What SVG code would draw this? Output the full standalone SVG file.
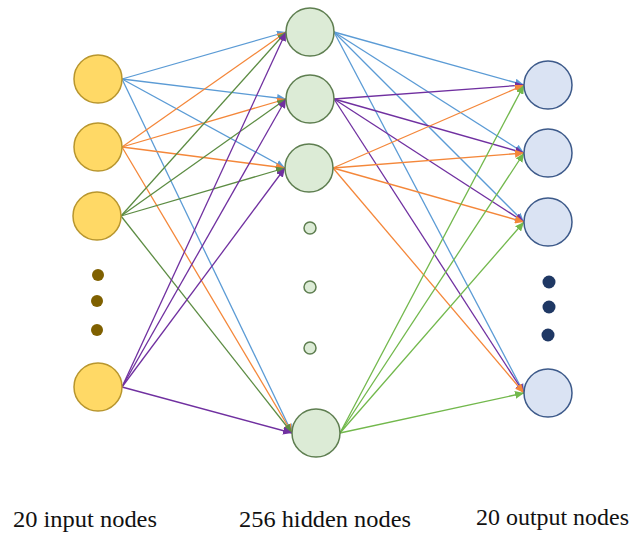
<svg xmlns="http://www.w3.org/2000/svg" width="634" height="536" viewBox="0 0 634 536">
  <style>
    .edge { fill: none; stroke-width: 1.3; }
    .blue { stroke: #5b9bd5; }
    .orange { stroke: #f4873a; }
    .dgreen { stroke: #5c8c43; }
    .purple { stroke: #7030a0; }
    .lgreen { stroke: #72b84c; }
    .inp { fill: #ffd966; stroke: #b8962e; stroke-width: 1.5; }
    .hid { fill: #dcebd6; stroke: #5e7e50; stroke-width: 1.5; }
    .out { fill: #dae3f3; stroke: #3d5a8a; stroke-width: 1.5; }
  </style>
  <defs>
    <marker id="ah-blue" markerUnits="userSpaceOnUse" markerWidth="10" markerHeight="8" refX="9" refY="4" orient="auto"><path d="M0,0 L9,4 L0,8 z" fill="#5b9bd5"/></marker>
    <marker id="ah-orange" markerUnits="userSpaceOnUse" markerWidth="10" markerHeight="8" refX="9" refY="4" orient="auto"><path d="M0,0 L9,4 L0,8 z" fill="#f4873a"/></marker>
    <marker id="ah-dgreen" markerUnits="userSpaceOnUse" markerWidth="10" markerHeight="8" refX="9" refY="4" orient="auto"><path d="M0,0 L9,4 L0,8 z" fill="#5c8c43"/></marker>
    <marker id="ah-purple" markerUnits="userSpaceOnUse" markerWidth="10" markerHeight="8" refX="9" refY="4" orient="auto"><path d="M0,0 L9,4 L0,8 z" fill="#7030a0"/></marker>
    <marker id="ah-lgreen" markerUnits="userSpaceOnUse" markerWidth="10" markerHeight="8" refX="9" refY="4" orient="auto"><path d="M0,0 L9,4 L0,8 z" fill="#72b84c"/></marker>
  </defs>

  <rect width="634" height="536" fill="#ffffff"/>

  <g id="connectors">
    <!-- input layer -> hidden layer -->
    <g class="edge blue" marker-end="url(#ah-blue)">
      <line x1="122" y1="79" x2="286" y2="32"/>
      <line x1="122" y1="79" x2="286" y2="99"/>
      <line x1="122" y1="79" x2="285" y2="168"/>
      <line x1="122" y1="79" x2="292" y2="433"/>
    </g>
    <g class="edge orange" marker-end="url(#ah-orange)">
      <line x1="122" y1="147" x2="286" y2="32"/>
      <line x1="122" y1="147" x2="286" y2="99"/>
      <line x1="122" y1="147" x2="285" y2="168"/>
      <line x1="122" y1="147" x2="292" y2="433"/>
    </g>
    <g class="edge dgreen" marker-end="url(#ah-dgreen)">
      <line x1="121" y1="216" x2="286" y2="32"/>
      <line x1="121" y1="216" x2="286" y2="99"/>
      <line x1="121" y1="216" x2="285" y2="168"/>
      <line x1="121" y1="216" x2="292" y2="433"/>
    </g>
    <g class="edge purple" marker-end="url(#ah-purple)">
      <line x1="122" y1="387" x2="286" y2="32"/>
      <line x1="122" y1="387" x2="286" y2="99"/>
      <line x1="122" y1="387" x2="285" y2="168"/>
      <line x1="122" y1="387" x2="292" y2="433"/>
    </g>
    <!-- hidden layer -> output layer -->
    <g class="edge blue" marker-end="url(#ah-blue)">
      <line x1="334" y1="32" x2="524" y2="85"/>
      <line x1="334" y1="32" x2="524" y2="153"/>
      <line x1="334" y1="32" x2="524" y2="222"/>
      <line x1="334" y1="32" x2="524" y2="393"/>
    </g>
    <g class="edge purple" marker-end="url(#ah-purple)">
      <line x1="334" y1="99" x2="524" y2="85"/>
      <line x1="334" y1="99" x2="524" y2="153"/>
      <line x1="334" y1="99" x2="524" y2="222"/>
      <line x1="334" y1="99" x2="524" y2="393"/>
    </g>
    <g class="edge orange" marker-end="url(#ah-orange)">
      <line x1="333" y1="168" x2="524" y2="85"/>
      <line x1="333" y1="168" x2="524" y2="153"/>
      <line x1="333" y1="168" x2="524" y2="222"/>
      <line x1="333" y1="168" x2="524" y2="393"/>
    </g>
    <g class="edge lgreen" marker-end="url(#ah-lgreen)">
      <line x1="340" y1="433" x2="524" y2="85"/>
      <line x1="340" y1="433" x2="524" y2="153"/>
      <line x1="340" y1="433" x2="524" y2="222"/>
      <line x1="340" y1="433" x2="524" y2="393"/>
    </g>
  </g>

  <!-- input layer -->
  <g id="input-1"><circle class="inp" cx="98" cy="79" r="24"/></g>
  <g id="input-2"><circle class="inp" cx="98" cy="147" r="24"/></g>
  <g id="input-3"><circle class="inp" cx="97" cy="216" r="24"/></g>
  <g id="input-ellipsis" fill="#7f6000">
    <circle cx="98" cy="275" r="6"/>
    <circle cx="97" cy="301" r="6"/>
    <circle cx="97" cy="330" r="6"/>
  </g>
  <g id="input-20"><circle class="inp" cx="98" cy="387" r="24"/></g>

  <!-- hidden layer -->
  <g id="hidden-1"><circle class="hid" cx="310" cy="32" r="24"/></g>
  <g id="hidden-2"><circle class="hid" cx="310" cy="99" r="24"/></g>
  <g id="hidden-3"><circle class="hid" cx="309" cy="168" r="24"/></g>
  <g id="hidden-ellipsis">
    <circle class="hid" cx="310" cy="228" r="6" stroke-width="1"/>
    <circle class="hid" cx="310" cy="287" r="6" stroke-width="1"/>
    <circle class="hid" cx="310" cy="348" r="6" stroke-width="1"/>
  </g>
  <g id="hidden-256"><circle class="hid" cx="316" cy="433" r="24"/></g>

  <!-- output layer -->
  <g id="output-1"><circle class="out" cx="548" cy="85" r="24"/></g>
  <g id="output-2"><circle class="out" cx="548" cy="153" r="24"/></g>
  <g id="output-3"><circle class="out" cx="548" cy="222" r="24"/></g>
  <g id="output-ellipsis" fill="#1f3864">
    <circle cx="549" cy="282" r="6.5"/>
    <circle cx="549" cy="307" r="6.5"/>
    <circle cx="548" cy="335" r="6.5"/>
  </g>
  <g id="output-20"><circle class="out" cx="548" cy="393" r="24"/></g>

  <!-- layer captions -->
  <g id="captions" font-family="Liberation Serif" font-size="23" fill="#111111">
    <text x="13" y="527" textLength="144" lengthAdjust="spacingAndGlyphs">20 input nodes</text>
    <text x="239" y="527" textLength="172" lengthAdjust="spacingAndGlyphs">256 hidden nodes</text>
    <text x="476" y="525" textLength="153" lengthAdjust="spacingAndGlyphs">20 output nodes</text>
  </g>
</svg>
